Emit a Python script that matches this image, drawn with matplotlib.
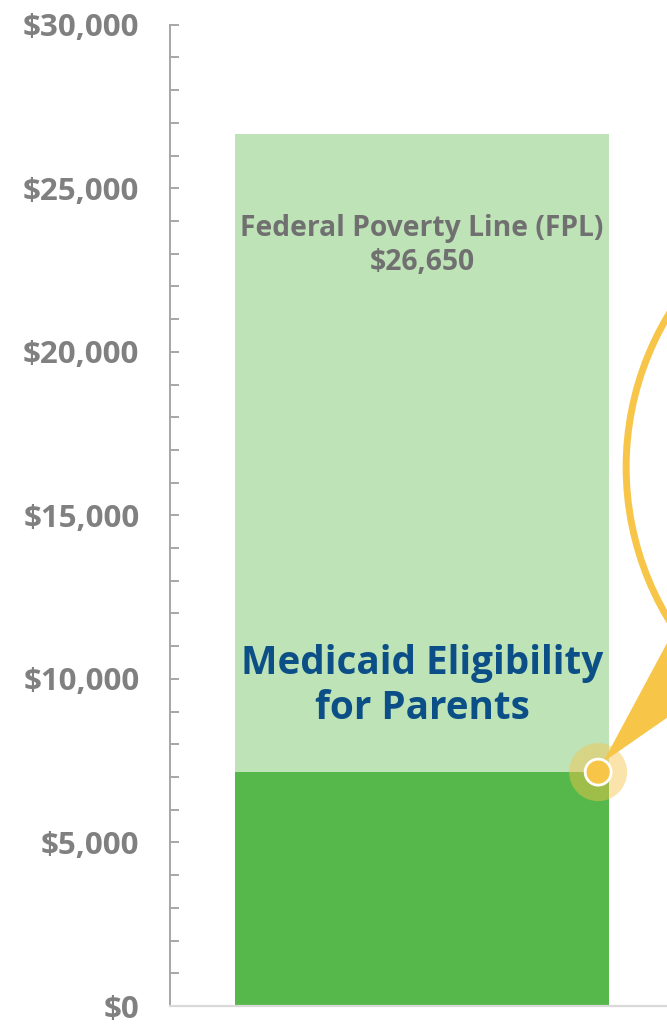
import matplotlib
matplotlib.use('Agg')
import matplotlib.pyplot as plt
from matplotlib.patches import Circle, Polygon
from matplotlib.transforms import IdentityTransform
from matplotlib.ticker import MultipleLocator, FuncFormatter

# values
fpl = 26650
medicaid_parents = 7150
fpl_label = 'Federal Poverty Line (FPL)\n$26,650'
medicaid_label = 'Medicaid Eligibility\nfor Parents'
y_max = 30000

light_green = '#bde3b7'
dark_green = '#56b84a'
yellow = '#f7c548'
blue = '#0b4f86'
grey_text = '#707070'

plt.rcParams['font.family'] = ['Open Sans', 'DejaVu Sans']

fig = plt.figure(figsize=(6.67, 10.24), dpi=100)
ax = fig.add_axes([170 / 667, 1 - 1006 / 1024, 1 - 170 / 667, (1006 - 24.7) / 1024])

ax.bar(0, fpl, width=0.75, color=light_green, zorder=1)
ax.bar(0, medicaid_parents, width=0.75, color=dark_green, zorder=2)

ax.set_xlim(-0.505, 0.491)
ax.set_ylim(0, y_max)
ax.yaxis.set_major_locator(MultipleLocator(5000))
ax.yaxis.set_minor_locator(MultipleLocator(1000))
ax.yaxis.set_major_formatter(FuncFormatter(lambda v, p: f'${v:,.0f}'))
ax.tick_params(axis='y', which='both', direction='in', length=6.5, width=1.4,
               color='#a6a6a6', labelsize=22.5, labelcolor='#808080', pad=22)
for lab in ax.get_yticklabels():
    lab.set_fontweight('bold')
ax.set_xticks([])
for s in ['top', 'right']:
    ax.spines[s].set_visible(False)
ax.spines['left'].set_color('#a6a6a6')
ax.spines['left'].set_linewidth(1.4)
ax.spines['bottom'].set_color('#d9d9d9')
ax.spines['bottom'].set_linewidth(1.6)

ax.text(0, 23250, fpl_label, ha='center', va='center', fontsize=20.3,
        fontweight='bold', color=grey_text, linespacing=1.2)
ax.text(0, 9780, medicaid_label, ha='center', va='center', fontsize=27.8,
        fontweight='bold', color=blue, linespacing=1.2)

# callout anchored at the Medicaid level on the bar edge
fig.canvas.draw()
ax_x, ax_y = ax.transData.transform((0.353, medicaid_parents))
idt = IdentityTransform()
wedge = Polygon([(ax_x + 5, ax_y + 10), (ax_x + 122, ax_y + 228), (ax_x + 162, ax_y + 119)],
                closed=True, facecolor=yellow, edgecolor='none', transform=idt,
                clip_on=False, zorder=4)
ax.add_patch(wedge)
big = Circle((ax_x + 323, ax_y + 305), 295, facecolor='none', edgecolor=yellow,
             linewidth=5, transform=idt, clip_on=False, zorder=4)
ax.add_patch(big)
halo = Circle((ax_x, ax_y), 29, facecolor=yellow, alpha=0.45, edgecolor='none',
              transform=idt, clip_on=False, zorder=5)
ax.add_patch(halo)
dot = Circle((ax_x, ax_y), 13, facecolor=yellow, edgecolor='white', linewidth=2,
             transform=idt, clip_on=False, zorder=6)
ax.add_patch(dot)

fig.savefig('out.png', dpi=100)
